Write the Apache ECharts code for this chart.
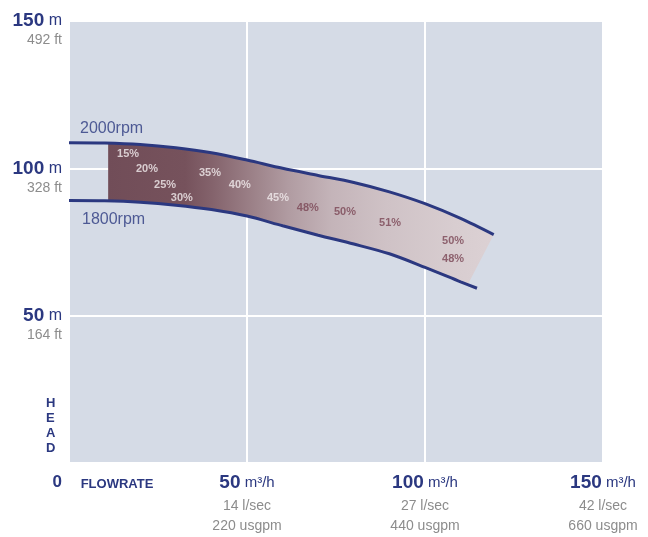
<!DOCTYPE html>
<html>
<head>
<meta charset="utf-8">
<script src="https://cdn.jsdelivr.net/npm/echarts@6/dist/echarts.min.js"></script>
<style>
html,body{margin:0;padding:0;background:#fff;}
#chart{width:648px;height:537px;}
</style>
</head>
<body>
<div id="chart"></div>
<script>
// ---- data ----
const yTicks = [0, 50, 100, 150];
const yMainLabels = ['0', '50', '100', '150'];
const yFtLabels = ['', '164 ft', '328 ft', '492 ft'];

const xTicks = [0, 50, 100, 150];
const xMainLabels = ['', '50', '100', '150'];
const xLpsLabels = ['', '14 l/sec', '27 l/sec', '42 l/sec'];
const xGpmLabels = ['', '220 usgpm', '440 usgpm', '660 usgpm'];
const xNameLabel = 'FLOWRATE';
const yNameLabel = 'HEAD';

const rpm2000 = [[0,108.7],[10,108.6],[20,108.1],[30,107.0],[40,105.3],[50,102.8],[60,100.0],[70,97.6],[80,95.2],[90,92.0],[100,88.0],[110,83.0],[119.3,77.5]];
const rpm1800 = [[0,89.1],[10,89.0],[20,88.5],[30,87.5],[40,86.0],[50,83.8],[60,80.5],[70,77.3],[80,74.3],[90,71.0],[100,66.4],[110,61.5],[114.6,59.3]];
const curveNames = ['2000rpm', '1800rpm'];

// efficiency zone edges
const shadeTop = [[11,108.6],[20,108.1],[30,107.0],[40,105.3],[50,102.8],[60,100.0],[70,97.6],[80,95.2],[90,92.0],[100,88.0],[110,83.0],[119.3,77.5]];
const shadeBottom = [[11,89.0],[20,88.5],[30,87.5],[40,86.0],[50,83.8],[60,80.5],[70,77.3],[80,74.3],[90,71.0],[100,66.4],[110,61.5],[112,60.5]];

// efficiency labels
const effLightPos = [[16.6,105.0],[21.9,99.9],[27.0,94.5],[31.7,90.1],[39.6,98.5],[48.0,94.5],[58.7,90.1]];
const effLightText = ['15%','20%','25%','30%','35%','40%','45%'];
const effDarkPos = [[67.1,86.7],[77.5,85.3],[90.2,81.3],[107.9,75.5],[107.9,69.1]];
const effDarkText = ['48%','50%','51%','50%','48%'];

// ---- styles ----
const NAVY = '#2b3880';
const GREY = '#8c8c8c';
const SANS = '"Liberation Sans",Arial,sans-serif';

const chart = echarts.init(document.getElementById('chart'), null, {renderer: 'canvas'});

const shadeFill = new echarts.graphic.LinearGradient(0, 0, 1, 0, [
  {offset: 0.00, color: '#714d58'},
  {offset: 0.20, color: '#76525c'},
  {offset: 0.27, color: '#84636c'},
  {offset: 0.37, color: '#9b8087'},
  {offset: 0.47, color: '#b19ca2'},
  {offset: 0.58, color: '#c4b4b9'},
  {offset: 0.72, color: '#cfc2c6'},
  {offset: 0.90, color: '#d8cdd0'},
  {offset: 1.00, color: '#dcd1d4'}
]);

const option = {
  backgroundColor: '#ffffff',
  animation: false,
  grid: {
    left: 69, right: 45, top: 21, bottom: 74,
    outerBoundsMode: 'none',
    containLabel: false,
    show: true, backgroundColor: '#d5dbe6', borderWidth: 0
  },
  graphic: [{
    type: 'text', left: 46, top: 396,
    style: {
      text: yNameLabel.split('').join('\n'),
      fontFamily: SANS, fontWeight: 'bold', fontSize: 13, lineHeight: 15,
      fill: NAVY, align: 'center'
    }
  }],
  xAxis: {
    type: 'value', min: 0, max: 150, interval: 50,
    axisLine: {show: false}, axisTick: {show: false},
    splitLine: {show: true, lineStyle: {color: '#ffffff', width: 2}},
    axisLabel: {
      margin: 7,
      formatter: function (v) {
        const i = xTicks.indexOf(v);
        if (i < 0) return '';
        if (v === 0) return '{fl|' + xNameLabel + '}';
        return '{big|' + xMainLabels[i] + '}{unit| m³/h}\n{sub|' + xLpsLabels[i] + '}\n{sub|' + xGpmLabels[i] + '}';
      },
      rich: {
        big: {fontFamily: SANS, fontWeight: 'bold', fontSize: 19, color: NAVY, lineHeight: 26},
        unit: {fontFamily: SANS, fontSize: 15, color: NAVY, lineHeight: 26},
        sub: {fontFamily: SANS, fontSize: 14, color: GREY, lineHeight: 20},
        fl: {fontFamily: SANS, fontWeight: 'bold', fontSize: 13, color: NAVY, lineHeight: 26, padding: [3, 0, 0, 96]}
      }
    }
  },
  yAxis: {
    type: 'value', min: 0, max: 150, interval: 50,
    axisLine: {show: false}, axisTick: {show: false},
    splitLine: {show: true, lineStyle: {color: '#ffffff', width: 2}},
    axisLabel: {
      margin: 7,
      formatter: function (v) {
        const i = yTicks.indexOf(v);
        if (i < 0) return '';
        if (v === 0) return '{sp0|}\n{zero|' + yMainLabels[i] + '}';
        return '{sp|}\n{big|' + yMainLabels[i] + '}{unit| m}\n{ft|' + yFtLabels[i] + '}';
      },
      rich: {
        sp: {lineHeight: 19, fontSize: 10},
        sp0: {lineHeight: 38, fontSize: 10},
        zero: {fontFamily: SANS, fontWeight: 'bold', fontSize: 17, color: NAVY, lineHeight: 18},
        big: {fontFamily: SANS, fontWeight: 'bold', fontSize: 19, color: NAVY, lineHeight: 20},
        unit: {fontFamily: SANS, fontSize: 16, color: NAVY, lineHeight: 20},
        ft: {fontFamily: SANS, fontSize: 14, color: GREY, lineHeight: 19}
      }
    }
  },
  series: [
    {
      type: 'custom',
      z: 1,
      silent: true,
      data: [[0, 0]],
      renderItem: function (params, api) {
        const pts = shadeTop.map(p => api.coord(p))
          .concat(shadeBottom.slice().reverse().map(p => api.coord(p)));
        return {type: 'polygon', shape: {points: pts}, style: {fill: shadeFill}};
      }
    },
    {
      name: curveNames[0], type: 'line', z: 3, smooth: 0.3, showSymbol: false,
      lineStyle: {color: NAVY, width: 3},
      data: rpm2000
    },
    {
      name: curveNames[1], type: 'line', z: 3, smooth: 0.3, showSymbol: false,
      lineStyle: {color: NAVY, width: 3},
      data: rpm1800
    },
    {
      type: 'scatter', z: 4, symbolSize: 0, silent: true,
      data: [
        {value: rpm2000[0], name: curveNames[0], label: {offset: [11, -14]}},
        {value: rpm1800[0], name: curveNames[1], label: {offset: [13, 19]}}
      ],
      label: {show: true, position: 'inside', align: 'left', formatter: '{b}', color: NAVY,
        fontFamily: SANS, fontSize: 16}
    },
    {
      type: 'scatter', z: 4, symbolSize: 0, silent: true,
      data: effLightPos.map((p, i) => ({value: p, name: effLightText[i]})),
      label: {show: true, position: 'inside', formatter: '{b}', color: '#f3ecee',
        fontFamily: SANS, fontWeight: 'bold', fontSize: 11}
    },
    {
      type: 'scatter', z: 4, symbolSize: 0, silent: true,
      data: effDarkPos.map((p, i) => ({value: p, name: effDarkText[i]})),
      label: {show: true, position: 'inside', formatter: '{b}', color: '#7b4655',
        fontFamily: SANS, fontWeight: 'bold', fontSize: 11}
    }
  ]
};
chart.setOption(option);
</script>
</body>
</html>
